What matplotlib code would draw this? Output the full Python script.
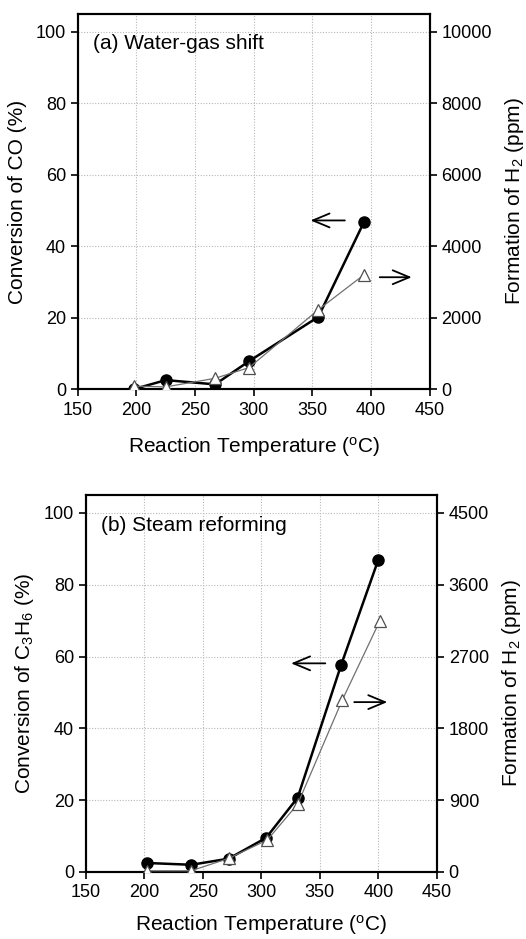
import matplotlib
matplotlib.use("Agg")
import matplotlib.pyplot as plt

plt.rcParams['font.family'] = ['Liberation Sans', 'DejaVu Sans']
plt.rcParams['mathtext.fontset'] = 'custom'
plt.rcParams['mathtext.rm'] = 'Liberation Sans'
plt.rcParams['mathtext.it'] = 'Liberation Sans'

# Panel (a) Water-gas shift
wgs_temp_conv = [198, 225, 267, 296, 355, 394]
wgs_conv = [0.0, 2.5, 1.3, 7.8, 20.2, 46.8]
wgs_temp_h2 = [198, 225, 267, 296, 355, 394]
wgs_h2 = [80, 60, 300, 600, 2220, 3200]

# Panel (b) Steam reforming
sr_temp_conv = [202, 240, 272, 304, 331, 368, 400]
sr_conv = [2.5, 2.0, 3.7, 9.5, 20.7, 57.5, 87.0]
sr_temp_h2 = [202, 240, 272, 305, 331, 369, 401]
sr_h2 = [15, 15, 170, 400, 850, 2150, 3140]

xticks = [150, 200, 250, 300, 350, 400, 450]
left_ticks = [0, 20, 40, 60, 80, 100]
right_ticks_a = [0, 2000, 4000, 6000, 8000, 10000]
right_ticks_b = [0, 900, 1800, 2700, 3600, 4500]

fig = plt.figure(figsize=(5.26, 9.39), dpi=100)

panels = [
    dict(rect=[0.148, 0.5857, 0.669, 0.3994], tc=wgs_temp_conv, c=wgs_conv,
         th=wgs_temp_h2, h=wgs_h2, rt=right_ticks_a, rmax=10500,
         ylabel='Conversion of CO (%)', title='(a) Water-gas shift', xpad=12,
         larrow=((380, 47.2), (346, 47.2)), rarrow=((405, 31.3), (437, 31.3))),
    dict(rect=[0.1635, 0.0714, 0.667, 0.4015], tc=sr_temp_conv, c=sr_conv,
         th=sr_temp_h2, h=sr_h2, rt=right_ticks_b, rmax=4725,
         ylabel='Conversion of C$_3$H$_6$ (%)', title='(b) Steam reforming', xpad=8,
         larrow=((357, 58.1), (323, 58.1)), rarrow=((377, 47.3), (410, 47.3))),
]

for p in panels:
    ax = fig.add_axes(p['rect'])
    ax2 = ax.twinx()
    ax.set_xlim(150, 450)
    ax.set_ylim(0, 105)
    ax2.set_ylim(0, p['rmax'])
    ax.set_xticks(xticks)
    ax.set_yticks(left_ticks)
    ax2.set_yticks(p['rt'])
    ax.grid(True, color='#b8b8b8', linestyle=(0, (1, 1.5)), linewidth=0.8)
    ax.set_axisbelow(True)
    for a in (ax, ax2):
        for s in a.spines.values():
            s.set_linewidth(1.5)
        a.tick_params(direction='out', length=5, width=1.2, labelsize=13)
    ax.tick_params(axis='x', pad=4)
    ax2.plot(p['tc'], [v * p['rmax'] / 105 for v in p['c']], color='black', linewidth=1.8,
             marker='o', markersize=8, markerfacecolor='black', zorder=2)
    ax2.plot(p['th'], p['h'], color='#707070', linewidth=0.9, marker='^',
             markersize=9, markerfacecolor='white', markeredgecolor='#505050',
             markeredgewidth=0.9, zorder=3)
    ax.set_ylabel(p['ylabel'], fontsize=15, labelpad=6)
    ax2.set_ylabel('Formation of H$_2$ (ppm)', fontsize=15, labelpad=8)
    ax.set_xlabel('Reaction Temperature ($^{\\mathrm{o}}$C)', fontsize=15, labelpad=p['xpad'])
    ax.text(163, 96.6, p['title'], fontsize=15, ha='left', va='center')
    for (start, end) in (p['larrow'], p['rarrow']):
        ax.annotate('', xy=end, xytext=start,
                    arrowprops=dict(arrowstyle='->,head_length=1.2,head_width=0.5',
                                    color='black', linewidth=1.3),
                    annotation_clip=False)

fig.savefig('out.png', dpi=100)
